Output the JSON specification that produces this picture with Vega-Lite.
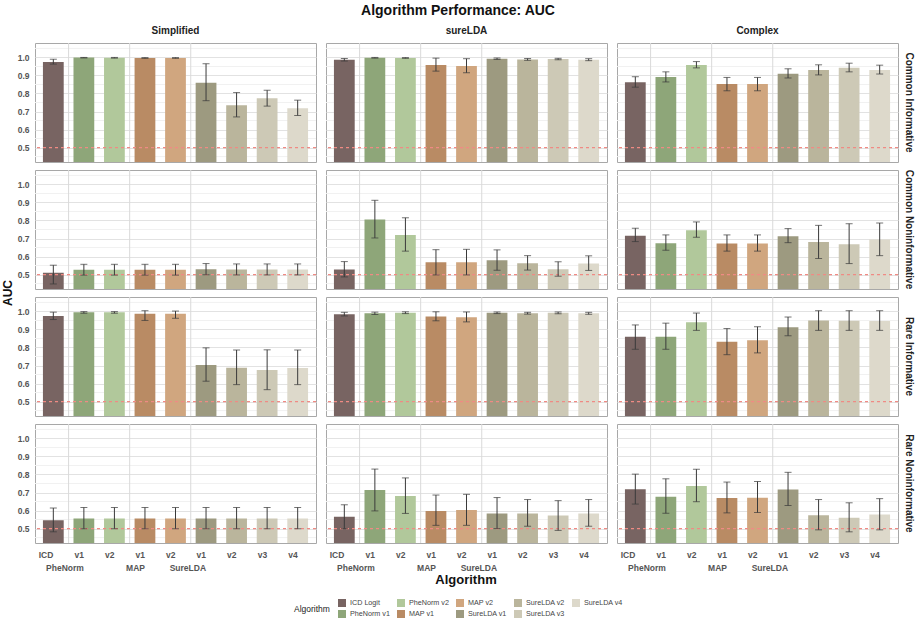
{
  "$schema": "https://vega.github.io/schema/vega-lite/v6.json",
  "title": {"text": "Algorithm Performance: AUC", "fontSize": 14, "fontWeight": "bold", "color": "#111111", "anchor": "middle", "offset": 8},
  "padding": {"left": 2, "top": 4, "right": 2, "bottom": 2},
  "background": "white",
  "spacing": {"row": 6, "column": 6},
  "config": {
    "font": "Liberation Sans",
    "view": {"stroke": "#a8a8a8", "strokeWidth": 1},
    "legend": {
      "orient": "bottom", "direction": "horizontal", "columns": 5, "titleOrient": "left",
      "symbolType": "square", "symbolSize": 64, "symbolStrokeWidth": 0, "labelOffset": 4,
      "labelFontSize": 7.2, "labelColor": "#444444", "titleFontSize": 8.5, "titleFontWeight": "normal",
      "titleColor": "#222222", "titlePadding": 8, "columnPadding": 7, "rowPadding": 3, "offset": 12,
      "layout": {"bottom": {"anchor": "middle"}}
    }
  },
  "datasets": {
    "auc": [
      {"Scenario": "Common Informative", "Model": "Simplified", "Algorithm": "ICD Logit", "AUC": 0.975, "lo": 0.963, "hi": 0.990},
      {"Scenario": "Common Informative", "Model": "Simplified", "Algorithm": "PheNorm v1", "AUC": 0.999, "lo": 0.997, "hi": 1.000},
      {"Scenario": "Common Informative", "Model": "Simplified", "Algorithm": "PheNorm v2", "AUC": 0.998, "lo": 0.996, "hi": 1.000},
      {"Scenario": "Common Informative", "Model": "Simplified", "Algorithm": "MAP v1", "AUC": 0.997, "lo": 0.995, "hi": 0.999},
      {"Scenario": "Common Informative", "Model": "Simplified", "Algorithm": "MAP v2", "AUC": 0.997, "lo": 0.995, "hi": 0.999},
      {"Scenario": "Common Informative", "Model": "Simplified", "Algorithm": "SureLDA v1", "AUC": 0.860, "lo": 0.760, "hi": 0.965},
      {"Scenario": "Common Informative", "Model": "Simplified", "Algorithm": "SureLDA v2", "AUC": 0.735, "lo": 0.670, "hi": 0.805},
      {"Scenario": "Common Informative", "Model": "Simplified", "Algorithm": "SureLDA v3", "AUC": 0.773, "lo": 0.730, "hi": 0.818},
      {"Scenario": "Common Informative", "Model": "Simplified", "Algorithm": "SureLDA v4", "AUC": 0.718, "lo": 0.678, "hi": 0.763},
      {"Scenario": "Common Informative", "Model": "sureLDA", "Algorithm": "ICD Logit", "AUC": 0.987, "lo": 0.980, "hi": 0.994},
      {"Scenario": "Common Informative", "Model": "sureLDA", "Algorithm": "PheNorm v1", "AUC": 0.998, "lo": 0.996, "hi": 1.000},
      {"Scenario": "Common Informative", "Model": "sureLDA", "Algorithm": "PheNorm v2", "AUC": 0.997, "lo": 0.995, "hi": 0.999},
      {"Scenario": "Common Informative", "Model": "sureLDA", "Algorithm": "MAP v1", "AUC": 0.958, "lo": 0.924, "hi": 0.996},
      {"Scenario": "Common Informative", "Model": "sureLDA", "Algorithm": "MAP v2", "AUC": 0.953, "lo": 0.915, "hi": 0.993},
      {"Scenario": "Common Informative", "Model": "sureLDA", "Algorithm": "SureLDA v1", "AUC": 0.993, "lo": 0.989, "hi": 0.997},
      {"Scenario": "Common Informative", "Model": "sureLDA", "Algorithm": "SureLDA v2", "AUC": 0.989, "lo": 0.984, "hi": 0.994},
      {"Scenario": "Common Informative", "Model": "sureLDA", "Algorithm": "SureLDA v3", "AUC": 0.991, "lo": 0.987, "hi": 0.995},
      {"Scenario": "Common Informative", "Model": "sureLDA", "Algorithm": "SureLDA v4", "AUC": 0.987, "lo": 0.982, "hi": 0.993},
      {"Scenario": "Common Informative", "Model": "Complex", "Algorithm": "ICD Logit", "AUC": 0.863, "lo": 0.835, "hi": 0.893},
      {"Scenario": "Common Informative", "Model": "Complex", "Algorithm": "PheNorm v1", "AUC": 0.891, "lo": 0.864, "hi": 0.920},
      {"Scenario": "Common Informative", "Model": "Complex", "Algorithm": "PheNorm v2", "AUC": 0.958, "lo": 0.942, "hi": 0.977},
      {"Scenario": "Common Informative", "Model": "Complex", "Algorithm": "MAP v1", "AUC": 0.852, "lo": 0.815, "hi": 0.889},
      {"Scenario": "Common Informative", "Model": "Complex", "Algorithm": "MAP v2", "AUC": 0.852, "lo": 0.815, "hi": 0.889},
      {"Scenario": "Common Informative", "Model": "Complex", "Algorithm": "SureLDA v1", "AUC": 0.909, "lo": 0.886, "hi": 0.937},
      {"Scenario": "Common Informative", "Model": "Complex", "Algorithm": "SureLDA v2", "AUC": 0.930, "lo": 0.903, "hi": 0.959},
      {"Scenario": "Common Informative", "Model": "Complex", "Algorithm": "SureLDA v3", "AUC": 0.943, "lo": 0.920, "hi": 0.968},
      {"Scenario": "Common Informative", "Model": "Complex", "Algorithm": "SureLDA v4", "AUC": 0.930, "lo": 0.908, "hi": 0.957},

      {"Scenario": "Common Noninformative", "Model": "Simplified", "Algorithm": "ICD Logit", "AUC": 0.510, "lo": 0.448, "hi": 0.552},
      {"Scenario": "Common Noninformative", "Model": "Simplified", "Algorithm": "PheNorm v1", "AUC": 0.527, "lo": 0.497, "hi": 0.557},
      {"Scenario": "Common Noninformative", "Model": "Simplified", "Algorithm": "PheNorm v2", "AUC": 0.527, "lo": 0.497, "hi": 0.557},
      {"Scenario": "Common Noninformative", "Model": "Simplified", "Algorithm": "MAP v1", "AUC": 0.527, "lo": 0.497, "hi": 0.557},
      {"Scenario": "Common Noninformative", "Model": "Simplified", "Algorithm": "MAP v2", "AUC": 0.527, "lo": 0.497, "hi": 0.557},
      {"Scenario": "Common Noninformative", "Model": "Simplified", "Algorithm": "SureLDA v1", "AUC": 0.529, "lo": 0.499, "hi": 0.561},
      {"Scenario": "Common Noninformative", "Model": "Simplified", "Algorithm": "SureLDA v2", "AUC": 0.528, "lo": 0.498, "hi": 0.559},
      {"Scenario": "Common Noninformative", "Model": "Simplified", "Algorithm": "SureLDA v3", "AUC": 0.528, "lo": 0.498, "hi": 0.559},
      {"Scenario": "Common Noninformative", "Model": "Simplified", "Algorithm": "SureLDA v4", "AUC": 0.528, "lo": 0.498, "hi": 0.559},
      {"Scenario": "Common Noninformative", "Model": "sureLDA", "Algorithm": "ICD Logit", "AUC": 0.528, "lo": 0.487, "hi": 0.572},
      {"Scenario": "Common Noninformative", "Model": "sureLDA", "Algorithm": "PheNorm v1", "AUC": 0.805, "lo": 0.703, "hi": 0.912},
      {"Scenario": "Common Noninformative", "Model": "sureLDA", "Algorithm": "PheNorm v2", "AUC": 0.720, "lo": 0.630, "hi": 0.815},
      {"Scenario": "Common Noninformative", "Model": "sureLDA", "Algorithm": "MAP v1", "AUC": 0.568, "lo": 0.498, "hi": 0.638},
      {"Scenario": "Common Noninformative", "Model": "sureLDA", "Algorithm": "MAP v2", "AUC": 0.568, "lo": 0.498, "hi": 0.640},
      {"Scenario": "Common Noninformative", "Model": "sureLDA", "Algorithm": "SureLDA v1", "AUC": 0.580, "lo": 0.524, "hi": 0.637},
      {"Scenario": "Common Noninformative", "Model": "sureLDA", "Algorithm": "SureLDA v2", "AUC": 0.563, "lo": 0.525, "hi": 0.605},
      {"Scenario": "Common Noninformative", "Model": "sureLDA", "Algorithm": "SureLDA v3", "AUC": 0.530, "lo": 0.491, "hi": 0.571},
      {"Scenario": "Common Noninformative", "Model": "sureLDA", "Algorithm": "SureLDA v4", "AUC": 0.562, "lo": 0.523, "hi": 0.604},
      {"Scenario": "Common Noninformative", "Model": "Complex", "Algorithm": "ICD Logit", "AUC": 0.715, "lo": 0.683, "hi": 0.757},
      {"Scenario": "Common Noninformative", "Model": "Complex", "Algorithm": "PheNorm v1", "AUC": 0.674, "lo": 0.635, "hi": 0.720},
      {"Scenario": "Common Noninformative", "Model": "Complex", "Algorithm": "PheNorm v2", "AUC": 0.746, "lo": 0.707, "hi": 0.792},
      {"Scenario": "Common Noninformative", "Model": "Complex", "Algorithm": "MAP v1", "AUC": 0.672, "lo": 0.630, "hi": 0.720},
      {"Scenario": "Common Noninformative", "Model": "Complex", "Algorithm": "MAP v2", "AUC": 0.672, "lo": 0.630, "hi": 0.720},
      {"Scenario": "Common Noninformative", "Model": "Complex", "Algorithm": "SureLDA v1", "AUC": 0.712, "lo": 0.677, "hi": 0.755},
      {"Scenario": "Common Noninformative", "Model": "Complex", "Algorithm": "SureLDA v2", "AUC": 0.680, "lo": 0.589, "hi": 0.773},
      {"Scenario": "Common Noninformative", "Model": "Complex", "Algorithm": "SureLDA v3", "AUC": 0.668, "lo": 0.561, "hi": 0.782},
      {"Scenario": "Common Noninformative", "Model": "Complex", "Algorithm": "SureLDA v4", "AUC": 0.695, "lo": 0.605, "hi": 0.786},

      {"Scenario": "Rare Informative", "Model": "Simplified", "Algorithm": "ICD Logit", "AUC": 0.975, "lo": 0.955, "hi": 0.996},
      {"Scenario": "Rare Informative", "Model": "Simplified", "Algorithm": "PheNorm v1", "AUC": 0.995, "lo": 0.990, "hi": 0.999},
      {"Scenario": "Rare Informative", "Model": "Simplified", "Algorithm": "PheNorm v2", "AUC": 0.995, "lo": 0.990, "hi": 0.999},
      {"Scenario": "Rare Informative", "Model": "Simplified", "Algorithm": "MAP v1", "AUC": 0.987, "lo": 0.950, "hi": 1.004},
      {"Scenario": "Rare Informative", "Model": "Simplified", "Algorithm": "MAP v2", "AUC": 0.987, "lo": 0.962, "hi": 1.002},
      {"Scenario": "Rare Informative", "Model": "Simplified", "Algorithm": "SureLDA v1", "AUC": 0.703, "lo": 0.613, "hi": 0.798},
      {"Scenario": "Rare Informative", "Model": "Simplified", "Algorithm": "SureLDA v2", "AUC": 0.687, "lo": 0.594, "hi": 0.786},
      {"Scenario": "Rare Informative", "Model": "Simplified", "Algorithm": "SureLDA v3", "AUC": 0.675, "lo": 0.566, "hi": 0.787},
      {"Scenario": "Rare Informative", "Model": "Simplified", "Algorithm": "SureLDA v4", "AUC": 0.686, "lo": 0.594, "hi": 0.786},
      {"Scenario": "Rare Informative", "Model": "sureLDA", "Algorithm": "ICD Logit", "AUC": 0.985, "lo": 0.975, "hi": 0.995},
      {"Scenario": "Rare Informative", "Model": "sureLDA", "Algorithm": "PheNorm v1", "AUC": 0.990, "lo": 0.983, "hi": 0.996},
      {"Scenario": "Rare Informative", "Model": "sureLDA", "Algorithm": "PheNorm v2", "AUC": 0.993, "lo": 0.988, "hi": 0.998},
      {"Scenario": "Rare Informative", "Model": "sureLDA", "Algorithm": "MAP v1", "AUC": 0.972, "lo": 0.948, "hi": 0.998},
      {"Scenario": "Rare Informative", "Model": "sureLDA", "Algorithm": "MAP v2", "AUC": 0.967, "lo": 0.942, "hi": 0.997},
      {"Scenario": "Rare Informative", "Model": "sureLDA", "Algorithm": "SureLDA v1", "AUC": 0.993, "lo": 0.988, "hi": 0.997},
      {"Scenario": "Rare Informative", "Model": "sureLDA", "Algorithm": "SureLDA v2", "AUC": 0.990, "lo": 0.985, "hi": 0.995},
      {"Scenario": "Rare Informative", "Model": "sureLDA", "Algorithm": "SureLDA v3", "AUC": 0.992, "lo": 0.987, "hi": 0.997},
      {"Scenario": "Rare Informative", "Model": "sureLDA", "Algorithm": "SureLDA v4", "AUC": 0.990, "lo": 0.984, "hi": 0.995},
      {"Scenario": "Rare Informative", "Model": "Complex", "Algorithm": "ICD Logit", "AUC": 0.860, "lo": 0.790, "hi": 0.925},
      {"Scenario": "Rare Informative", "Model": "Complex", "Algorithm": "PheNorm v1", "AUC": 0.860, "lo": 0.790, "hi": 0.935},
      {"Scenario": "Rare Informative", "Model": "Complex", "Algorithm": "PheNorm v2", "AUC": 0.940, "lo": 0.895, "hi": 0.991},
      {"Scenario": "Rare Informative", "Model": "Complex", "Algorithm": "MAP v1", "AUC": 0.832, "lo": 0.760, "hi": 0.905},
      {"Scenario": "Rare Informative", "Model": "Complex", "Algorithm": "MAP v2", "AUC": 0.840, "lo": 0.770, "hi": 0.915},
      {"Scenario": "Rare Informative", "Model": "Complex", "Algorithm": "SureLDA v1", "AUC": 0.912, "lo": 0.865, "hi": 0.969},
      {"Scenario": "Rare Informative", "Model": "Complex", "Algorithm": "SureLDA v2", "AUC": 0.950, "lo": 0.895, "hi": 1.004},
      {"Scenario": "Rare Informative", "Model": "Complex", "Algorithm": "SureLDA v3", "AUC": 0.948, "lo": 0.895, "hi": 1.004},
      {"Scenario": "Rare Informative", "Model": "Complex", "Algorithm": "SureLDA v4", "AUC": 0.947, "lo": 0.895, "hi": 1.004},

      {"Scenario": "Rare Noninformative", "Model": "Simplified", "Algorithm": "ICD Logit", "AUC": 0.546, "lo": 0.482, "hi": 0.614},
      {"Scenario": "Rare Noninformative", "Model": "Simplified", "Algorithm": "PheNorm v1", "AUC": 0.556, "lo": 0.499, "hi": 0.617},
      {"Scenario": "Rare Noninformative", "Model": "Simplified", "Algorithm": "PheNorm v2", "AUC": 0.556, "lo": 0.499, "hi": 0.617},
      {"Scenario": "Rare Noninformative", "Model": "Simplified", "Algorithm": "MAP v1", "AUC": 0.556, "lo": 0.499, "hi": 0.617},
      {"Scenario": "Rare Noninformative", "Model": "Simplified", "Algorithm": "MAP v2", "AUC": 0.556, "lo": 0.499, "hi": 0.617},
      {"Scenario": "Rare Noninformative", "Model": "Simplified", "Algorithm": "SureLDA v1", "AUC": 0.556, "lo": 0.499, "hi": 0.617},
      {"Scenario": "Rare Noninformative", "Model": "Simplified", "Algorithm": "SureLDA v2", "AUC": 0.556, "lo": 0.499, "hi": 0.617},
      {"Scenario": "Rare Noninformative", "Model": "Simplified", "Algorithm": "SureLDA v3", "AUC": 0.556, "lo": 0.499, "hi": 0.617},
      {"Scenario": "Rare Noninformative", "Model": "Simplified", "Algorithm": "SureLDA v4", "AUC": 0.556, "lo": 0.499, "hi": 0.617},
      {"Scenario": "Rare Noninformative", "Model": "sureLDA", "Algorithm": "ICD Logit", "AUC": 0.565, "lo": 0.500, "hi": 0.632},
      {"Scenario": "Rare Noninformative", "Model": "sureLDA", "Algorithm": "PheNorm v1", "AUC": 0.714, "lo": 0.598, "hi": 0.830},
      {"Scenario": "Rare Noninformative", "Model": "sureLDA", "Algorithm": "PheNorm v2", "AUC": 0.680, "lo": 0.584, "hi": 0.781},
      {"Scenario": "Rare Noninformative", "Model": "sureLDA", "Algorithm": "MAP v1", "AUC": 0.598, "lo": 0.518, "hi": 0.686},
      {"Scenario": "Rare Noninformative", "Model": "sureLDA", "Algorithm": "MAP v2", "AUC": 0.603, "lo": 0.518, "hi": 0.690},
      {"Scenario": "Rare Noninformative", "Model": "sureLDA", "Algorithm": "SureLDA v1", "AUC": 0.583, "lo": 0.500, "hi": 0.672},
      {"Scenario": "Rare Noninformative", "Model": "sureLDA", "Algorithm": "SureLDA v2", "AUC": 0.583, "lo": 0.513, "hi": 0.661},
      {"Scenario": "Rare Noninformative", "Model": "sureLDA", "Algorithm": "SureLDA v3", "AUC": 0.572, "lo": 0.490, "hi": 0.655},
      {"Scenario": "Rare Noninformative", "Model": "sureLDA", "Algorithm": "SureLDA v4", "AUC": 0.583, "lo": 0.513, "hi": 0.661},
      {"Scenario": "Rare Noninformative", "Model": "Complex", "Algorithm": "ICD Logit", "AUC": 0.718, "lo": 0.636, "hi": 0.802},
      {"Scenario": "Rare Noninformative", "Model": "Complex", "Algorithm": "PheNorm v1", "AUC": 0.677, "lo": 0.585, "hi": 0.776},
      {"Scenario": "Rare Noninformative", "Model": "Complex", "Algorithm": "PheNorm v2", "AUC": 0.736, "lo": 0.649, "hi": 0.829},
      {"Scenario": "Rare Noninformative", "Model": "Complex", "Algorithm": "MAP v1", "AUC": 0.669, "lo": 0.587, "hi": 0.758},
      {"Scenario": "Rare Noninformative", "Model": "Complex", "Algorithm": "MAP v2", "AUC": 0.671, "lo": 0.589, "hi": 0.761},
      {"Scenario": "Rare Noninformative", "Model": "Complex", "Algorithm": "SureLDA v1", "AUC": 0.717, "lo": 0.628, "hi": 0.812},
      {"Scenario": "Rare Noninformative", "Model": "Complex", "Algorithm": "SureLDA v2", "AUC": 0.574, "lo": 0.493, "hi": 0.661},
      {"Scenario": "Rare Noninformative", "Model": "Complex", "Algorithm": "SureLDA v3", "AUC": 0.560, "lo": 0.482, "hi": 0.643},
      {"Scenario": "Rare Noninformative", "Model": "Complex", "Algorithm": "SureLDA v4", "AUC": 0.578, "lo": 0.493, "hi": 0.666}
    ]
  },
  "data": {"name": "auc"},
  "facet": {
    "row": {
      "field": "Scenario", "type": "nominal", "title": "AUC",
      "sort": ["Common Informative", "Common Noninformative", "Rare Informative", "Rare Noninformative"],
      "header": {
        "labelOrient": "right", "labelAngle": 90, "labelFontSize": 10, "labelFontWeight": "bold", "labelColor": "#222222", "labelPadding": 4,
        "titleOrient": "left", "titleFontSize": 12, "titleFontWeight": "bold", "titleColor": "#111111", "titlePadding": -8
      }
    },
    "column": {
      "field": "Model", "type": "nominal", "title": "Algorithm",
      "sort": ["Simplified", "sureLDA", "Complex"],
      "header": {
        "labelOrient": "top", "labelFontSize": 10, "labelFontWeight": "bold", "labelColor": "#222222", "labelPadding": 6,
        "titleOrient": "bottom", "titleFontSize": 13, "titleFontWeight": "bold", "titleColor": "#111111", "titlePadding": -8
      }
    }
  },
  "spec": {
    "width": 281,
    "height": 119,
    "layer": [
      {
        "transform": [{"filter": "datum.Algorithm == 'ICD Logit'"}],
        "layer": [
          {"mark": {"type": "rule", "color": "#f1f1f1", "strokeWidth": 1}, "encoding": {"y": {"datum": 0.45, "type": "quantitative"}}},
          {"mark": {"type": "rule", "color": "#f1f1f1", "strokeWidth": 1}, "encoding": {"y": {"datum": 0.55, "type": "quantitative"}}},
          {"mark": {"type": "rule", "color": "#f1f1f1", "strokeWidth": 1}, "encoding": {"y": {"datum": 0.65, "type": "quantitative"}}},
          {"mark": {"type": "rule", "color": "#f1f1f1", "strokeWidth": 1}, "encoding": {"y": {"datum": 0.75, "type": "quantitative"}}},
          {"mark": {"type": "rule", "color": "#f1f1f1", "strokeWidth": 1}, "encoding": {"y": {"datum": 0.85, "type": "quantitative"}}},
          {"mark": {"type": "rule", "color": "#f1f1f1", "strokeWidth": 1}, "encoding": {"y": {"datum": 0.95, "type": "quantitative"}}},
          {"mark": {"type": "rule", "color": "#f1f1f1", "strokeWidth": 1}, "encoding": {"y": {"datum": 1.05, "type": "quantitative"}}}
        ]
      },
      {
        "transform": [{"filter": {"field": "Algorithm", "oneOf": ["PheNorm v1", "MAP v1", "SureLDA v1"]}}],
        "mark": {"type": "rule", "color": "#d9d9d9", "strokeWidth": 1, "xOffset": -4.9},
        "encoding": {
          "x": {"field": "Algorithm", "type": "nominal", "bandPosition": 0,
                "sort": ["ICD Logit", "PheNorm v1", "PheNorm v2", "MAP v1", "MAP v2", "SureLDA v1", "SureLDA v2", "SureLDA v3", "SureLDA v4"]}
        }
      },
      {
        "mark": {"type": "bar", "clip": true},
        "encoding": {
          "x": {
            "field": "Algorithm", "type": "nominal", "title": null,
            "sort": ["ICD Logit", "PheNorm v1", "PheNorm v2", "MAP v1", "MAP v2", "SureLDA v1", "SureLDA v2", "SureLDA v3", "SureLDA v4"],
            "scale": {"paddingInner": 0.32, "paddingOuter": 0.26},
            "axis": {
              "labelAngle": 0, "domain": false, "ticks": false, "grid": false,
              "labelExpr": "datum.value == 'ICD Logit' ? 'ICD' : (split(datum.value, ' ')[1] == 'v1' ? [split(datum.value, ' ')[1], split(datum.value, ' ')[0]] : split(datum.value, ' ')[1])",
              "labelFontSize": 8.5, "labelFontWeight": "bold", "labelColor": "#555555", "labelPadding": 10, "labelLineHeight": 13
            }
          },
          "y": {
            "field": "AUC", "type": "quantitative", "title": null,
            "scale": {"domain": [0.42, 1.08], "zero": false, "nice": false},
            "axis": {
              "values": [0.5, 0.6, 0.7, 0.8, 0.9, 1.0], "tickCount": 6, "format": ".1f", "labelOverlap": false,
              "grid": true, "gridColor": "#e2e2e2",
              "domain": false, "ticks": false, "labelPadding": 4,
              "labelFontSize": 8.5, "labelFontWeight": "bold", "labelColor": "#555555"
            }
          },
          "color": {
            "field": "Algorithm", "type": "nominal", "title": "Algorithm",
            "scale": {
              "domain": ["ICD Logit", "PheNorm v2", "MAP v2", "SureLDA v2", "SureLDA v4", "PheNorm v1", "MAP v1", "SureLDA v1", "SureLDA v3"],
              "range": ["#786462", "#b1c89b", "#d0a67f", "#bab59c", "#ddd9cb", "#8ea679", "#b98b64", "#9d9a80", "#cdc9b6"]
            }
          }
        }
      },
      {
        "transform": [{"filter": "datum.Algorithm == 'ICD Logit'"}],
        "mark": {"type": "rule", "color": "#f08a84", "strokeDash": [3, 3], "strokeWidth": 1.1},
        "encoding": {"y": {"datum": 0.5, "type": "quantitative"}}
      },
      {
        "mark": {"type": "errorbar", "ticks": {"size": 7}, "color": "#3a3a3a", "thickness": 1},
        "encoding": {
          "x": {"field": "Algorithm", "type": "nominal",
                "sort": ["ICD Logit", "PheNorm v1", "PheNorm v2", "MAP v1", "MAP v2", "SureLDA v1", "SureLDA v2", "SureLDA v3", "SureLDA v4"]},
          "y": {"field": "lo", "type": "quantitative", "title": null},
          "y2": {"field": "hi"}
        }
      }
    ]
  }
}
